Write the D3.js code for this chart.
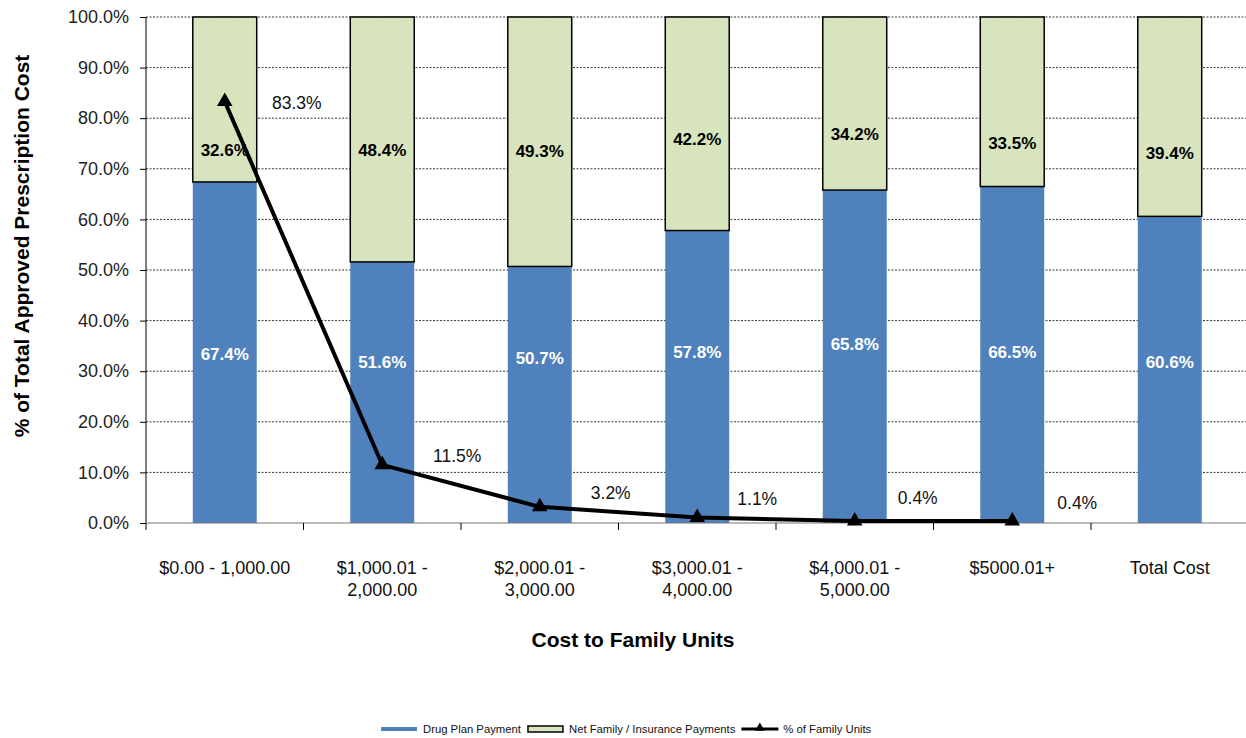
<!DOCTYPE html>
<html>
<head>
<meta charset="utf-8">
<script src="https://cdn.jsdelivr.net/npm/d3@7"></script>
<style>
  body { margin: 0; background: #fff; }
  text { font-family: 'Liberation Sans', Arial, sans-serif; }
</style>
</head>
<body>
<script>
// chart data
var categories = ['$0.00 - 1,000.00', '$1,000.01 -\n2,000.00', '$2,000.01 -\n3,000.00',
    '$3,000.01 -\n4,000.00', '$4,000.01 -\n5,000.00', '$5000.01+', 'Total Cost'];
var drugPlan = [67.4, 51.6, 50.7, 57.8, 65.8, 66.5, 60.6];
var netFamily = [32.6, 48.4, 49.3, 42.2, 34.2, 33.5, 39.4];
var familyUnits = [83.3, 11.5, 3.2, 1.1, 0.4, 0.4];   // no value for Total Cost
var yTicks = [0, 10, 20, 30, 40, 50, 60, 70, 80, 90, 100];

// label nudges in pixels (the original labels were dragged around by hand)
var blueNudge = [2, -30, -37, -25, -12, -3, -8];
var greenNudge = [51, 11, 9, 15, 31, 41, 36];
var lineNudge = [[72, 1], [75, -9], [71, -14], [60, -19], [63, -23], [65, -18]];

var W = 1246, H = 738;
var margin = { top: 17, left: 146 };
var plotW = 1102.5, plotH = 506;

var svg = d3.select('body').append('svg')
    .attr('width', W)
    .attr('height', H);

var g = svg.append('g')
    .attr('transform', 'translate(' + margin.left + ',' + margin.top + ')');

// bars sit in the middle 40% of each category slot
var x = d3.scaleBand().domain(categories).range([0, plotW])
    .paddingInner(0.594).paddingOuter(0.297);
// full slots, used for the tick marks between categories
var slot = d3.scaleBand().domain(categories).range([0, plotW]);
var y = d3.scaleLinear().domain([0, 100]).range([plotH, 0]);

// dashed gridlines behind the bars
g.selectAll('.grid')
    .data(yTicks.slice(1))
    .enter().append('line')
    .attr('x1', 0).attr('x2', plotW)
    .attr('y1', function(d) { return y(d); })
    .attr('y2', function(d) { return y(d); })
    .attr('stroke', '#000')
    .attr('stroke-width', 0.8)
    .attr('stroke-dasharray', '2,1.5');

// y axis
var yAxis = g.append('g')
    .call(d3.axisLeft(y).tickValues(yTicks).tickSize(6).tickPadding(11)
        .tickFormat(function(d) { return d.toFixed(1) + '%'; }));
yAxis.select('.domain').attr('stroke', '#000').attr('d', 'M0,0V' + plotH);
yAxis.selectAll('.tick line').attr('stroke', '#000');
yAxis.selectAll('.tick text')
    .attr('fill', '#222')
    .style('font-size', '18px')
    .style('font-family', "'Liberation Sans', Arial, sans-serif");

// stacked bars
g.selectAll('.bar-blue')
    .data(categories)
    .enter().append('rect')
    .attr('x', function(d) { return x(d); })
    .attr('y', function(d, i) { return y(drugPlan[i]); })
    .attr('width', x.bandwidth())
    .attr('height', function(d, i) { return y(0) - y(drugPlan[i]); })
    .attr('fill', '#4F81BD');

g.selectAll('.bar-green')
    .data(categories)
    .enter().append('rect')
    .attr('x', function(d) { return x(d); })
    .attr('y', function(d, i) { return y(drugPlan[i] + netFamily[i]); })
    .attr('width', x.bandwidth())
    .attr('height', function(d, i) { return y(drugPlan[i]) - y(drugPlan[i] + netFamily[i]); })
    .attr('fill', '#D7E4BD')
    .attr('stroke', '#000')
    .attr('stroke-width', 1.5);

// x axis line and tick marks between slots
g.append('line')
    .attr('x1', 0).attr('x2', plotW)
    .attr('y1', plotH).attr('y2', plotH)
    .attr('stroke', '#777')
    .attr('stroke-width', 1.2);

g.selectAll('.xtick')
    .data(categories)
    .enter().append('line')
    .attr('x1', function(d) { return slot(d); })
    .attr('x2', function(d) { return slot(d); })
    .attr('y1', plotH).attr('y2', plotH + 7)
    .attr('stroke', '#000');

// category labels, split over two lines where needed
var xLab = g.selectAll('.xlab')
    .data(categories)
    .enter().append('text')
    .attr('text-anchor', 'middle')
    .attr('fill', '#111')
    .style('font-size', '18px');
xLab.each(function(d) {
    var t = d3.select(this);
    var cx = x(d) + x.bandwidth() / 2;
    d.split('\n').forEach(function(part, k) {
        t.append('tspan')
            .attr('x', cx)
            .attr('y', plotH + 51 + k * 22)
            .text(part);
    });
});

// bar value labels
g.selectAll('.lab-blue')
    .data(categories)
    .enter().append('text')
    .attr('x', function(d) { return x(d) + x.bandwidth() / 2; })
    .attr('y', function(d, i) { return y(drugPlan[i] / 2) + blueNudge[i]; })
    .attr('dy', '0.35em')
    .attr('text-anchor', 'middle')
    .attr('fill', '#fff')
    .style('font-size', '17px')
    .style('font-weight', 'bold')
    .text(function(d, i) { return drugPlan[i].toFixed(1) + '%'; });

g.selectAll('.lab-green')
    .data(categories)
    .enter().append('text')
    .attr('x', function(d) { return x(d) + x.bandwidth() / 2; })
    .attr('y', function(d, i) { return y(drugPlan[i] + netFamily[i] / 2) + greenNudge[i]; })
    .attr('dy', '0.35em')
    .attr('text-anchor', 'middle')
    .attr('fill', '#000')
    .style('font-size', '17px')
    .style('font-weight', 'bold')
    .text(function(d, i) { return netFamily[i].toFixed(1) + '%'; });

// % of family units line
var lineCats = categories.slice(0, familyUnits.length);
var cx = function(i) { return x(lineCats[i]) + x.bandwidth() / 2; };

g.append('path')
    .datum(familyUnits)
    .attr('fill', 'none')
    .attr('stroke', '#000')
    .attr('stroke-width', 4)
    .attr('stroke-linejoin', 'round')
    .attr('d', d3.line()
        .x(function(d, i) { return cx(i); })
        .y(function(d) { return y(d); }));

g.selectAll('.marker')
    .data(familyUnits)
    .enter().append('path')
    .attr('d', d3.symbol().type(d3.symbolTriangle).size(105))
    .attr('transform', function(d, i) { return 'translate(' + cx(i) + ',' + y(d) + ')'; })
    .attr('fill', '#000');

g.selectAll('.lab-line')
    .data(familyUnits)
    .enter().append('text')
    .attr('x', function(d, i) { return cx(i) + lineNudge[i][0]; })
    .attr('y', function(d, i) { return y(d) + lineNudge[i][1]; })
    .attr('dy', '0.35em')
    .attr('text-anchor', 'middle')
    .attr('fill', '#111')
    .style('font-size', '17.5px')
    .text(function(d) { return d.toFixed(1) + '%'; });

// axis titles
svg.append('text')
    .attr('transform', 'translate(29,246) rotate(-90)')
    .attr('text-anchor', 'middle')
    .style('font-size', '21px')
    .style('font-weight', 'bold')
    .text('% of Total Approved Prescription Cost');

svg.append('text')
    .attr('x', 633)
    .attr('y', 647)
    .attr('text-anchor', 'middle')
    .style('font-size', '21px')
    .style('font-weight', 'bold')
    .text('Cost to Family Units');

// legend
var legend = svg.append('g').attr('transform', 'translate(381,729)');
var lx = 0;
[
    { name: 'Drug Plan Payment', kind: 'blue' },
    { name: 'Net Family / Insurance Payments', kind: 'green' },
    { name: '% of Family Units', kind: 'line' }
].forEach(function(item) {
    var it = legend.append('g').attr('transform', 'translate(' + lx + ',0)');
    if (item.kind === 'blue') {
        it.append('rect').attr('x', 0).attr('y', -2).attr('width', 36).attr('height', 4)
            .attr('fill', '#4F81BD');
    } else if (item.kind === 'green') {
        it.append('rect').attr('x', 1).attr('y', -3).attr('width', 35).attr('height', 6)
            .attr('fill', '#D7E4BD').attr('stroke', '#000').attr('stroke-width', 1.5);
    } else {
        it.append('line').attr('x1', 0).attr('x2', 37).attr('y1', 0).attr('y2', 0)
            .attr('stroke', '#000').attr('stroke-width', 3);
        it.append('path').attr('d', d3.symbol().type(d3.symbolTriangle).size(40))
            .attr('transform', 'translate(18.5,-1)').attr('fill', '#000');
    }
    var t = it.append('text')
        .attr('x', 42)
        .attr('y', 0)
        .attr('dy', '0.35em')
        .attr('fill', '#111')
        .style('font-size', '11.3px')
        .text(item.name);
    lx += 42 + t.node().getComputedTextLength() + 6;
});
</script>
</body>
</html>
